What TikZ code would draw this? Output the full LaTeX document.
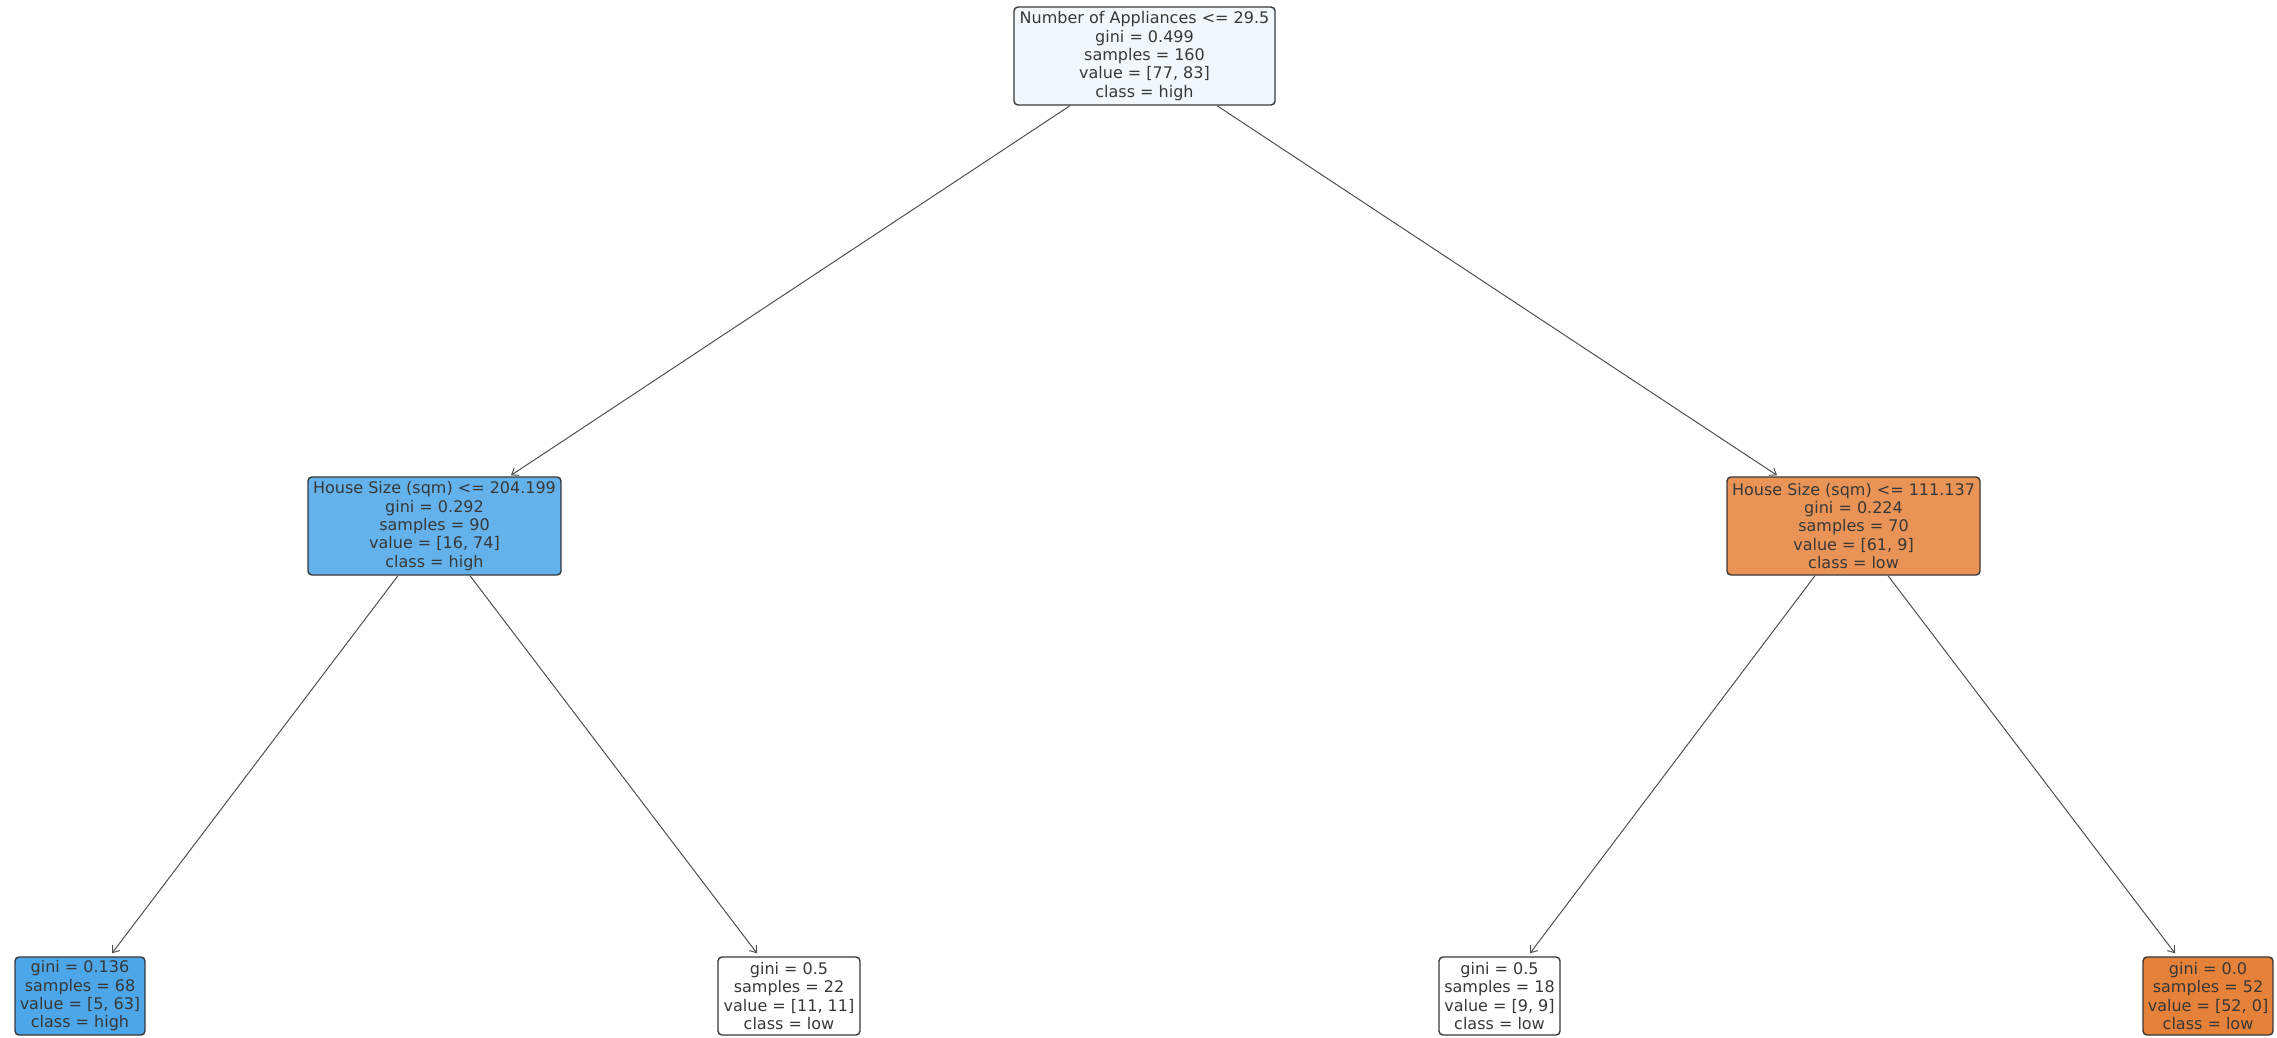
\documentclass[tikz,border=0pt]{standalone}
\usepackage{fontspec}
\setmainfont{DejaVu Sans}
\usetikzlibrary{arrows.meta}
\definecolor{txt}{HTML}{383838}
\definecolor{edge}{HTML}{505050}
\definecolor{rootc}{HTML}{F0F8FD}
\definecolor{lmid}{HTML}{64B2EB}
\definecolor{lleaf}{HTML}{4CA6E7}
\definecolor{rmid}{HTML}{E99456}
\definecolor{rleaf}{HTML}{E58139}
\tikzset{
  tn/.style={draw=txt, line width=1.4pt, rounded corners=4pt, align=center, inner sep=0pt,
    text=txt, font=\fontsize{16}{18.3}\selectfont},
  conn/.style={draw=edge, line width=1pt, -{Straight Barb[length=6pt,width=9pt]}}
}
\begin{document}
\begin{tikzpicture}[x=1pt,y=-1pt]
\useasboundingbox (0,0) rectangle (2277,1037);
\node[tn, fill=rootc, minimum width=261pt, minimum height=98pt] (root) at (1144.5,56)
  {Number of Appliances <= 29.5\\gini = 0.499\\samples = 160\\value = [77, 83]\\class = high};
\node[tn, fill=lmid, minimum width=253pt, minimum height=98pt] (L) at (434.5,526)
  {House Size (sqm) <= 204.199\\gini = 0.292\\samples = 90\\value = [16, 74]\\class = high};
\node[tn, fill=rmid, minimum width=253pt, minimum height=98pt] (R) at (1853.5,526)
  {House Size (sqm) <= 111.137\\gini = 0.224\\samples = 70\\value = [61, 9]\\class = low};
\node[tn, fill=lleaf, minimum width=130pt, minimum height=78pt] (LL) at (80,996)
  {gini = 0.136\\samples = 68\\value = [5, 63]\\class = high};
\node[tn, fill=white, minimum width=142pt, minimum height=78pt] (LR) at (789,996)
  {gini = 0.5\\samples = 22\\value = [11, 11]\\class = low};
\node[tn, fill=white, minimum width=121pt, minimum height=78pt] (RL) at (1499.5,996)
  {gini = 0.5\\samples = 18\\value = [9, 9]\\class = low};
\node[tn, fill=rleaf, minimum width=130pt, minimum height=78pt] (RR) at (2208,996)
  {gini = 0.0\\samples = 52\\value = [52, 0]\\class = low};
\draw[conn] ([xshift=-74.5pt]root.south) -- ([xshift=76.5pt,yshift=1pt]L.north);
\draw[conn] ([xshift=72.5pt]root.south) -- ([xshift=-76.5pt,yshift=1pt]R.north);
\draw[conn] ([xshift=-36.5pt]L.south) -- ([xshift=32pt,yshift=3pt]LL.north);
\draw[conn] ([xshift=35.5pt]L.south) -- ([xshift=-32pt,yshift=3pt]LR.north);
\draw[conn] ([xshift=-38.5pt]R.south) -- ([xshift=30.5pt,yshift=3pt]RL.north);
\draw[conn] ([xshift=34.5pt]R.south) -- ([xshift=-33pt,yshift=3pt]RR.north);
\end{tikzpicture}
\end{document}
